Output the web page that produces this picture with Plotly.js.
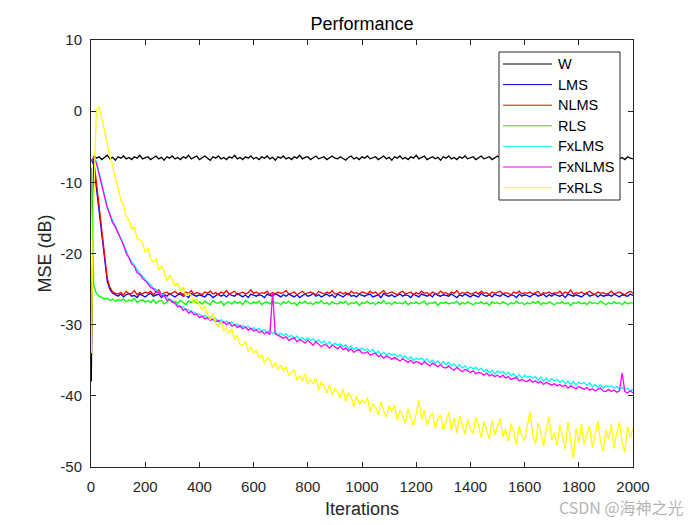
<!DOCTYPE html>
<html>
<head>
<meta charset="utf-8">
<script src="https://cdn.plot.ly/plotly-3.0.1.min.js"></script>
<style>html,body{margin:0;padding:0;background:#fff;}#chart{width:700px;height:525px;}</style>
</head>
<body>
<div id="chart"></div>
<script>
// Iteration grid: sample 1, then every 10 iterations up to 2000
const iterations = [1];
for (let k = 1; k <= 200; k++) iterations.push(10 * k);

const seriesNames = ['W', 'LMS', 'NLMS', 'RLS', 'FxLMS', 'FxNLMS', 'FxRLS'];
const seriesColors = ['#000000', '#0000FF', '#FF0000', '#00FF00', '#00FFFF', '#FF00FF', '#FFFF00'];

const mseW = [-38.0,
-6.3,-6.6,-6.4,-6.8,-6.5,-6.2,-6.7,-6.5,-6.9,-6.4,
-6.6,-6.3,-6.7,-6.5,-6.8,-6.4,-6.6,-6.2,-6.7,-6.5,
-6.4,-6.8,-6.6,-6.3,-6.7,-6.5,-6.9,-6.4,-6.6,-6.3,
-6.7,-6.5,-6.8,-6.4,-6.6,-6.2,-6.7,-6.5,-6.3,-6.8,
-6.5,-6.3,-6.6,-6.9,-6.4,-6.6,-6.3,-6.7,-6.5,-6.8,
-6.4,-6.6,-6.2,-6.7,-6.5,-6.8,-6.4,-6.6,-6.3,-6.7,
-6.5,-6.8,-6.4,-6.6,-6.3,-6.7,-6.5,-6.9,-6.4,-6.6,
-6.3,-6.7,-6.5,-6.8,-6.4,-6.6,-6.2,-6.7,-6.5,-6.4,
-6.8,-6.5,-6.3,-6.7,-6.6,-6.4,-6.8,-6.5,-6.3,-6.6,
-6.7,-6.4,-6.6,-6.9,-6.5,-6.3,-6.7,-6.5,-6.8,-6.4,
-6.6,-6.3,-6.7,-6.5,-6.4,-6.8,-6.6,-6.3,-6.7,-6.5,
-6.9,-6.4,-6.6,-6.3,-6.7,-6.5,-6.8,-6.4,-6.6,-6.2,
-6.7,-6.5,-6.3,-6.8,-6.6,-6.4,-6.7,-6.5,-6.9,-6.4,
-6.6,-6.3,-6.7,-6.5,-6.8,-6.4,-6.6,-6.3,-6.7,-6.5,
-6.4,-6.8,-6.5,-6.3,-6.7,-6.6,-6.4,-6.8,-6.5,-6.3,
-6.6,-6.7,-6.4,-6.9,-6.5,-6.3,-6.7,-6.6,-6.4,-6.8,
-6.5,-6.3,-6.6,-6.7,-6.4,-6.8,-6.5,-6.3,-6.7,-6.6,
-6.4,-6.8,-6.5,-6.6,-6.3,-6.7,-6.5,-6.9,-6.4,-6.6,
-6.3,-6.7,-6.5,-6.8,-6.4,-6.6,-6.2,-6.7,-6.5,-6.4,
-6.8,-6.5,-6.6,-6.3,-6.7,-6.5,-6.8,-6.4,-6.6,-6.7];

const mseLMS = [-6.8,
-7.5,-10.8,-14.3,-17.8,-21.2,-23.9,-25.1,-25.6,-25.8,-26.0,
-25.7,-26.1,-25.8,-25.6,-26.0,-25.9,-26.2,-25.7,-25.9,-26.1,
-25.8,-25.6,-26.0,-25.9,-25.7,-26.2,-25.8,-26.0,-25.6,-25.9,
-26.1,-25.8,-25.7,-26.0,-25.9,-26.2,-25.6,-25.9,-26.0,-25.8,
-25.9,-26.1,-25.7,-25.8,-26.2,-25.9,-25.7,-26.0,-25.8,-26.1,
-25.7,-25.9,-26.0,-25.6,-25.9,-26.1,-25.8,-26.2,-25.7,-25.9,
-26.0,-25.8,-25.9,-26.2,-25.7,-25.9,-26.0,-25.6,-25.9,-26.1,
-25.8,-26.0,-25.7,-25.9,-26.1,-25.8,-26.2,-25.9,-25.7,-26.0,
-25.9,-25.6,-26.0,-25.8,-26.1,-25.9,-25.7,-26.0,-25.8,-26.2,
-25.7,-25.9,-26.1,-25.8,-25.6,-26.0,-25.9,-26.1,-25.7,-25.9,
-26.0,-25.8,-25.7,-26.1,-25.9,-25.8,-26.2,-25.6,-25.9,-26.0,
-25.8,-26.1,-25.9,-25.7,-26.0,-25.8,-25.9,-26.2,-25.7,-25.9,
-26.1,-25.7,-25.9,-26.0,-25.8,-26.1,-25.6,-25.9,-26.0,-25.8,
-25.9,-26.0,-25.7,-25.9,-26.2,-25.8,-26.0,-25.7,-25.9,-26.1,
-25.8,-25.9,-26.1,-25.6,-25.9,-26.0,-25.8,-26.1,-25.7,-25.9,
-26.0,-25.7,-25.9,-26.1,-25.8,-25.9,-26.2,-25.7,-26.0,-25.8,
-25.9,-26.1,-25.8,-25.7,-26.0,-25.9,-25.7,-26.1,-25.8,-26.0,
-25.7,-25.9,-26.0,-25.8,-26.2,-25.7,-25.9,-26.0,-25.8,-25.9,
-26.1,-25.8,-25.6,-26.0,-25.9,-25.7,-26.1,-25.8,-26.0,-25.9,
-25.8,-26.0,-25.7,-25.9,-26.1,-25.8,-25.9,-26.0,-25.7,-25.9];

const mseNLMS = [-6.8,
-7.0,-10.0,-13.5,-17.0,-20.5,-23.5,-24.8,-25.4,-25.6,-25.7,
-25.5,-25.8,-25.3,-25.7,-25.6,-25.2,-25.8,-25.5,-25.7,-25.4,
-25.6,-25.3,-25.8,-25.5,-25.1,-25.7,-25.6,-25.4,-25.8,-25.5,
-25.3,-25.7,-25.5,-25.8,-25.4,-25.6,-25.2,-25.7,-25.5,-25.6,
-25.8,-25.4,-25.6,-25.3,-25.7,-25.5,-25.8,-25.4,-25.6,-25.2,
-25.7,-25.5,-25.3,-25.8,-25.6,-25.4,-25.7,-25.5,-25.1,-25.6,
-25.4,-25.7,-25.5,-25.6,-25.3,-25.8,-25.5,-25.7,-25.4,-25.6,
-25.5,-25.2,-25.7,-25.6,-25.4,-25.8,-25.5,-25.3,-25.7,-25.6,
-25.4,-25.6,-25.8,-25.3,-25.5,-25.7,-25.4,-25.6,-25.2,-25.7,
-25.6,-25.4,-25.7,-25.5,-25.8,-25.3,-25.6,-25.5,-25.7,-25.4,
-25.5,-25.7,-25.3,-25.6,-25.4,-25.8,-25.5,-25.2,-25.7,-25.6,
-25.4,-25.6,-25.8,-25.5,-25.3,-25.7,-25.6,-25.4,-25.8,-25.5,
-25.7,-25.3,-25.6,-25.5,-25.8,-25.4,-25.6,-25.7,-25.3,-25.6,
-25.5,-25.8,-25.4,-25.6,-25.2,-25.7,-25.5,-25.6,-25.4,-25.7,
-25.6,-25.4,-25.7,-25.3,-25.6,-25.5,-25.8,-25.4,-25.6,-25.5,
-25.3,-25.7,-25.5,-25.6,-25.8,-25.4,-25.6,-25.3,-25.7,-25.5,
-25.6,-25.4,-25.7,-25.5,-25.3,-25.8,-25.5,-25.6,-25.4,-25.7,
-25.5,-25.6,-25.3,-25.7,-25.4,-25.6,-25.1,-25.7,-25.5,-25.6,
-25.4,-25.7,-25.5,-25.3,-25.6,-25.8,-25.4,-25.6,-25.5,-25.7,
-25.6,-25.3,-25.7,-25.5,-25.4,-25.6,-25.8,-25.5,-25.3,-25.6];

const mseRLS = [-8.0,
-24.5,-25.6,-26.0,-26.2,-26.4,-26.3,-26.6,-26.4,-26.7,-26.5,
-26.6,-26.4,-26.8,-26.5,-26.7,-26.3,-26.9,-26.6,-26.5,-26.8,
-26.6,-26.9,-26.5,-27.0,-26.7,-26.6,-27.1,-26.8,-26.5,-26.9,
-26.7,-27.0,-26.6,-26.9,-27.2,-26.7,-26.9,-26.6,-27.0,-26.8,
-27.1,-26.7,-26.9,-27.2,-26.6,-26.9,-27.0,-26.7,-27.3,-26.9,
-26.8,-27.1,-26.7,-27.0,-26.8,-27.2,-26.6,-26.9,-27.1,-26.8,
-27.0,-26.7,-27.2,-26.9,-26.8,-27.1,-26.6,-27.0,-26.9,-27.2,
-26.8,-27.0,-26.7,-27.1,-26.9,-27.3,-26.8,-27.0,-26.7,-27.1,
-26.9,-27.2,-26.8,-27.0,-26.6,-27.1,-26.9,-27.2,-26.8,-27.0,
-27.1,-26.8,-27.0,-26.7,-27.2,-26.9,-27.0,-26.8,-27.3,-26.9,
-27.0,-26.7,-27.1,-26.9,-27.2,-26.8,-27.0,-26.6,-27.1,-26.9,
-27.2,-26.8,-27.0,-26.9,-27.1,-26.7,-27.2,-26.9,-27.0,-26.8,
-27.1,-26.9,-26.7,-27.2,-26.9,-27.0,-26.8,-27.3,-26.9,-27.0,
-26.8,-27.1,-26.9,-27.0,-26.7,-27.2,-26.9,-27.1,-26.8,-27.0,
-27.2,-26.9,-27.0,-26.8,-27.1,-26.9,-27.3,-26.8,-27.0,-26.9,
-27.1,-26.8,-27.0,-27.2,-26.9,-27.1,-26.7,-27.0,-26.9,-27.2,
-26.9,-27.1,-26.8,-27.0,-26.7,-27.2,-26.9,-27.1,-26.8,-27.0,
-27.2,-26.9,-27.0,-26.8,-27.1,-26.9,-27.3,-26.9,-27.0,-26.8,
-27.1,-26.9,-27.2,-26.8,-27.0,-26.9,-27.1,-26.7,-27.0,-27.2,
-26.9,-27.1,-26.8,-27.0,-26.9,-27.2,-26.8,-27.1,-26.9,-27.0];

const mseFxLMS = [-7.0,
-6.4,-7.1,-8.6,-10.3,-11.9,-13.3,-14.4,-15.4,-16.1,-16.9,
-17.9,-18.7,-19.6,-20.5,-21.1,-21.7,-22.3,-22.8,-23.2,-23.7,
-24.1,-24.4,-24.9,-25.0,-25.5,-25.7,-26.0,-26.2,-26.5,-26.6,
-26.9,-27.1,-27.5,-27.5,-27.9,-27.9,-28.3,-28.2,-28.6,-28.5,
-28.9,-28.7,-29.1,-28.9,-29.4,-29.1,-29.6,-29.3,-29.8,-29.5,
-29.9,-29.6,-30.1,-29.9,-30.4,-30.1,-30.5,-30.2,-30.7,-30.4,
-30.8,-30.5,-30.9,-30.7,-31.2,-30.8,-31.3,-31.0,-31.5,-31.2,
-31.5,-31.3,-31.7,-31.5,-32.0,-31.6,-32.1,-31.8,-32.2,-31.9,
-32.2,-32.0,-32.4,-32.1,-32.6,-32.3,-32.8,-32.4,-32.9,-32.6,
-32.9,-32.7,-33.1,-32.8,-33.4,-33.0,-33.5,-33.2,-33.6,-33.3,
-33.6,-33.4,-33.8,-33.5,-34.1,-33.7,-34.2,-33.9,-34.3,-34.0,
-34.3,-34.1,-34.5,-34.2,-34.7,-34.4,-34.9,-34.5,-35.0,-34.7,
-34.9,-34.7,-35.1,-34.8,-35.3,-35.0,-35.4,-35.1,-35.6,-35.2,
-35.6,-35.3,-35.8,-35.5,-36.0,-35.6,-36.1,-35.8,-36.3,-35.9,
-36.2,-36.0,-36.4,-36.1,-36.6,-36.3,-36.8,-36.4,-36.9,-36.5,
-36.8,-36.6,-37.0,-36.7,-37.2,-36.9,-37.4,-37.0,-37.5,-37.1,
-37.4,-37.2,-37.5,-37.3,-37.8,-37.4,-37.9,-37.5,-38.0,-37.6,
-37.9,-37.7,-38.1,-37.8,-38.3,-37.9,-38.4,-38.0,-38.5,-38.1,
-38.3,-38.1,-38.5,-38.2,-38.7,-38.4,-38.8,-38.5,-38.9,-38.6,
-38.7,-38.6,-38.9,-38.7,-39.1,-38.8,-39.2,-38.9,-39.3,-39.1];

const mseFxNLMS = [-7.0,
-6.5,-7.3,-8.8,-10.6,-12.1,-13.6,-14.6,-15.7,-16.3,-17.2,
-18.1,-18.8,-20.0,-20.6,-21.5,-21.8,-22.7,-22.9,-23.5,-23.8,
-24.2,-24.8,-24.9,-25.4,-25.5,-26.0,-25.9,-26.6,-26.4,-26.8,
-27.0,-27.5,-27.4,-28.0,-27.8,-28.4,-28.1,-28.6,-28.5,-29.0,
-28.8,-29.2,-29.0,-29.4,-29.2,-29.6,-29.4,-29.8,-29.6,-30.0,
-29.7,-30.2,-30.0,-30.4,-30.1,-30.6,-30.3,-30.8,-30.5,-30.9,
-30.7,-31.1,-30.9,-31.3,-31.0,-31.4,-25.5,-31.3,-31.5,-31.8,
-31.9,-31.7,-32.2,-32.0,-31.8,-32.4,-32.1,-32.3,-32.6,-32.2,
-32.5,-32.9,-32.4,-32.7,-33.1,-32.8,-32.9,-33.3,-32.9,-33.1,
-33.4,-33.0,-33.5,-33.3,-33.7,-33.4,-33.9,-33.6,-33.5,-34.0,
-34.0,-33.8,-34.3,-34.1,-34.0,-34.5,-34.3,-34.7,-34.4,-34.6,
-34.9,-34.6,-34.8,-35.1,-34.8,-35.0,-35.3,-35.0,-35.4,-35.2,
-35.3,-35.6,-35.2,-35.5,-35.8,-35.4,-35.7,-35.9,-35.6,-36.0,
-36.1,-35.8,-36.2,-36.4,-36.0,-36.3,-36.6,-36.3,-36.5,-36.7,
-36.5,-36.9,-36.7,-36.8,-37.1,-36.8,-37.2,-37.0,-37.3,-37.1,
-37.4,-37.1,-37.5,-37.3,-37.7,-37.6,-37.4,-37.9,-37.7,-37.9,
-38.0,-37.7,-38.1,-37.9,-38.2,-38.0,-38.4,-38.1,-38.3,-38.5,
-38.3,-38.6,-38.4,-38.7,-38.5,-38.9,-38.6,-38.8,-39.0,-38.7,
-38.9,-39.1,-38.8,-39.2,-39.0,-39.3,-39.1,-38.9,-39.3,-39.4,
-39.1,-39.4,-39.2,-39.5,-39.3,-36.8,-39.4,-39.6,-39.3,-39.6];

const mseFxRLS = [-34.0,
-12.0,0.3,0.6,-1.0,-2.9,-4.3,-6.4,-7.6,-9.5,-10.8,
-12.4,-13.2,-14.9,-15.3,-16.6,-16.2,-17.9,-18.1,-18.4,-19.8,
-19.3,-20.8,-21.2,-20.7,-22.3,-21.8,-22.5,-23.9,-23.1,-23.6,
-24.6,-24.1,-25.3,-24.7,-26.0,-25.6,-25.9,-27.1,-26.4,-27.3,
-27.9,-27.4,-28.6,-29.3,-28.4,-29.9,-30.2,-29.5,-30.8,-30.5,
-31.2,-30.6,-32.1,-31.5,-32.8,-32.9,-32.3,-33.8,-33.1,-34.0,
-33.6,-34.7,-34.2,-35.4,-34.6,-34.9,-36.1,-35.3,-36.3,-35.7,
-36.5,-35.9,-37.2,-36.6,-36.4,-37.8,-37.1,-37.9,-36.9,-38.4,
-37.7,-38.3,-37.5,-39.2,-38.0,-38.7,-39.6,-38.4,-39.9,-39.0,
-39.4,-40.3,-39.0,-40.8,-39.6,-40.1,-41.5,-40.0,-41.2,-40.6,
-41.0,-40.2,-42.3,-41.1,-41.6,-42.7,-40.8,-42.1,-43.0,-41.4,
-42.2,-41.3,-43.4,-42.0,-42.8,-43.9,-41.8,-43.1,-44.2,-42.5,
-40.6,-43.3,-42.0,-44.1,-43.0,-42.4,-44.6,-43.2,-42.7,-44.8,
-43.5,-42.3,-44.9,-43.1,-45.2,-42.8,-44.0,-45.4,-43.3,-44.6,
-45.3,-43.0,-44.2,-45.9,-43.6,-44.8,-46.1,-43.4,-45.5,-44.3,
-43.2,-45.8,-44.6,-46.4,-43.9,-45.1,-46.9,-44.2,-45.6,-46.3,
-44.0,-42.2,-45.5,-46.8,-43.8,-45.0,-47.1,-44.6,-42.9,-46.2,
-45.2,-47.0,-44.1,-45.8,-47.5,-43.7,-46.0,-48.8,-44.5,-46.6,
-43.9,-46.9,-45.3,-44.2,-47.3,-45.6,-43.6,-46.4,-47.8,-44.8,
-46.1,-44.0,-47.4,-45.2,-43.7,-46.6,-47.9,-44.3,-45.8,-44.6];

const xTicks = [0, 200, 400, 600, 800, 1000, 1200, 1400, 1600, 1800, 2000];
const yTicks = [-50, -40, -30, -20, -10, 0, 10];

const allSeries = [mseW, mseLMS, mseNLMS, mseRLS, mseFxLMS, mseFxNLMS, mseFxRLS];
const traces = allSeries.map((ys, i) => ({
  type: 'scatter', mode: 'lines',
  x: iterations, y: ys, name: seriesNames[i], showlegend: false,
  line: {color: seriesColors[i], width: 1.3}
}));

// Plot area in pixels (for a MATLAB-style legend box)
const W = 700, H = 525, L = 91, R = 67, T = 40, B = 58;
const pw = W - L - R, ph = H - T - B;
const px2x = px => (px - L) / pw;
const py2y = py => (H - B - py) / ph;

const txt = '#262626';
const fontFam = 'Liberation Sans, Arial, sans-serif';

const shapes = [{
  type: 'rect', xref: 'paper', yref: 'paper',
  x0: px2x(499), x1: px2x(620), y0: py2y(200), y1: py2y(52),
  line: {color: txt, width: 1}, fillcolor: '#ffffff', layer: 'above'
}];
const annotations = [];
const rowY0 = 64, rowStep = 20.6;
seriesNames.forEach((nm, i) => {
  const py = rowY0 + i * rowStep;
  shapes.push({type: 'line', xref: 'paper', yref: 'paper',
    x0: px2x(503), x1: px2x(552), y0: py2y(py), y1: py2y(py),
    line: {color: seriesColors[i], width: 1}, layer: 'above'});
  annotations.push({text: nm, xref: 'paper', yref: 'paper',
    x: px2x(556), y: py2y(py), xanchor: 'left', yanchor: 'middle',
    showarrow: false, font: {family: fontFam, size: 14.5, color: '#000'}});
});
annotations.push({
  text: 'CSDN @海神之光', xref: 'paper', yref: 'paper',
  x: px2x(686), y: py2y(507), xanchor: 'right', yanchor: 'middle', showarrow: false,
  font: {family: 'Noto Sans CJK SC, Liberation Sans, sans-serif', size: 16, color: '#b4b4b4'}
});

const layout = {
  width: W, height: H,
  margin: {l: L, r: R, t: T, b: B},
  paper_bgcolor: '#ffffff', plot_bgcolor: '#ffffff',
  font: {family: fontFam, size: 15, color: txt},
  showlegend: false,
  title: {text: 'Performance', font: {family: fontFam, size: 18, color: '#000'},
          x: 0.5, xref: 'paper', y: 1 - 24 / H, yref: 'container', yanchor: 'middle'},
  xaxis: {
    range: [0, 2000], tickvals: xTicks, ticktext: xTicks.map(String),
    showline: true, mirror: 'ticks', linecolor: txt, linewidth: 1,
    ticks: 'inside', ticklen: 5, tickcolor: txt, showgrid: false, zeroline: false,
    tickfont: {size: 15, color: txt}, ticklabelstandoff: 6,
    title: {text: 'Iterations', font: {size: 18, color: txt}, standoff: 8}
  },
  yaxis: {
    range: [-50, 10], tickvals: yTicks, ticktext: yTicks.map(String),
    showline: true, mirror: 'ticks', linecolor: txt, linewidth: 1,
    ticks: 'inside', ticklen: 5, tickcolor: txt, showgrid: false, zeroline: false,
    tickfont: {size: 15, color: txt}, ticklabelstandoff: 5,
    title: {text: 'MSE (dB)', font: {size: 18, color: txt}, standoff: 4}
  },
  shapes: shapes,
  annotations: annotations
};

Plotly.newPlot('chart', traces, layout, {displayModeBar: false, staticPlot: true});
</script>
</body>
</html>
